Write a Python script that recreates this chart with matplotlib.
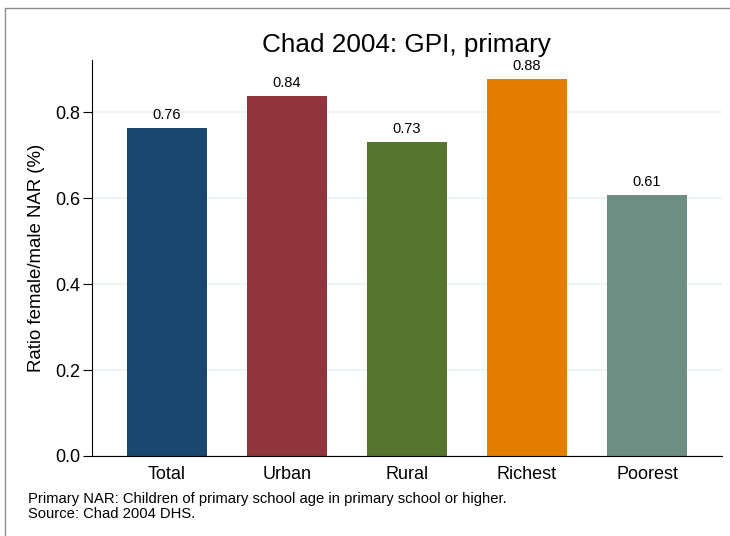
import matplotlib.pyplot as plt
from matplotlib.patches import Rectangle

plt.rcParams['font.family'] = ['Liberation Sans', 'DejaVu Sans']

# bar data
groups = ['Total', 'Urban', 'Rural', 'Richest', 'Poorest']
gpi = [0.763, 0.837, 0.730, 0.877, 0.608]
labels = ['0.76', '0.84', '0.73', '0.88', '0.61']
bar_colors = ['#1a476f', '#90353b', '#55752f', '#e37e00', '#6e8e84']
yticks = [0.0, 0.2, 0.4, 0.6, 0.8]

W, H = 730, 536
fig = plt.figure(figsize=(7.3, 5.36), dpi=100)
ax = fig.add_axes([92 / W, 1 - 456 / H, 630 / W, 396 / H])

# outer frame like the stata graph region
fig.patches.append(Rectangle((5 / W, -0.1), 1.2, 1 - 8 / H + 0.1,
                             transform=fig.transFigure, fill=False,
                             edgecolor='#8c8c8c', linewidth=1.0))

x = range(len(groups))
ax.bar(x, gpi, width=0.667, color=bar_colors, zorder=2)
for xi, v, lab in zip(x, gpi, labels):
    ax.annotate(lab, (xi, v), xytext=(0, 6.5), textcoords='offset points',
                ha='center', va='baseline', fontsize=10.5)

ax.set_xlim(-0.625, 4.625)
ax.set_ylim(0, 0.921)
ax.set_xticks(list(x))
ax.set_xticklabels(groups, fontsize=13)
ax.set_yticks(yticks)
ax.set_yticklabels(['%.1f' % t for t in yticks], fontsize=13)
ax.tick_params(axis='x', length=0, pad=7.5)
ax.tick_params(axis='y', length=6.5, width=0.8, pad=2)
ax.yaxis.grid(True, color='#eaf2f3', linewidth=1.2, zorder=0)
ax.set_axisbelow(True)

for s in ['top', 'right']:
    ax.spines[s].set_visible(False)
ax.spines['left'].set_linewidth(0.8)
ax.spines['bottom'].set_linewidth(0.8)

ax.set_ylabel('Ratio female/male NAR (%)', fontsize=13.4, labelpad=7)
fig.text(406 / W, 1 - 51.7 / H, 'Chad 2004: GPI, primary', ha='center',
         va='baseline', fontsize=18.8)
fig.text(28 / W, 1 - 503.5 / H,
         'Primary NAR: Children of primary school age in primary school or higher.',
         ha='left', va='baseline', fontsize=10.6)
fig.text(28 / W, 1 - 518.5 / H, 'Source: Chad 2004 DHS.',
         ha='left', va='baseline', fontsize=10.6)

fig.savefig('out.png', dpi=100)
